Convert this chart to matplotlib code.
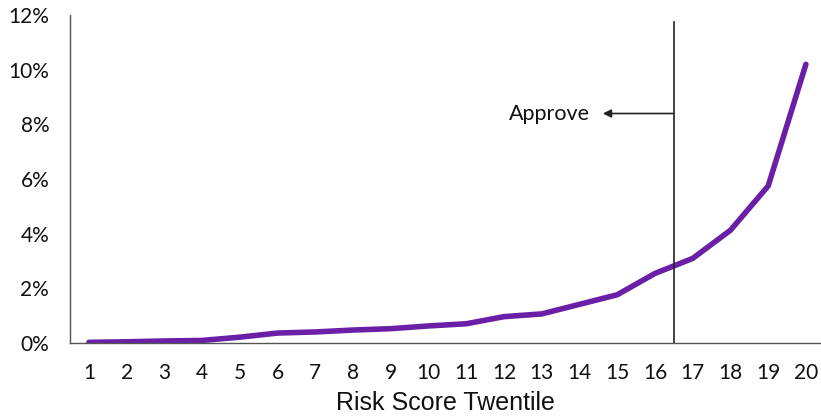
import numpy as np
import matplotlib.pyplot as plt
from matplotlib.ticker import FuncFormatter

# default rate by risk score twentile (percent)
twentiles = list(range(1, 21))
default_rate = [0.03, 0.05, 0.08, 0.1, 0.22, 0.37, 0.41, 0.48, 0.53, 0.63,
                0.71, 0.97, 1.07, 1.42, 1.77, 2.55, 3.1, 4.13, 5.75, 10.2]
cutoff = 16.5
yticks = [0, 2, 4, 6, 8, 10, 12]

fig = plt.figure(figsize=(8.21, 4.19), dpi=100)
ax = fig.add_axes([0.0853, 0.181, 0.9147, 0.783])

ax.plot(twentiles, default_rate, color="#6a1fa6", lw=4.0, solid_capstyle="round")
ax.axvline(cutoff, ymin=0, ymax=11.75 / 12, color="#222222", lw=1.2)

ax.annotate("", xy=(14.62, 8.4), xytext=(cutoff, 8.4),
            arrowprops=dict(arrowstyle="-|>", color="#222222", lw=1.2,
                            mutation_scale=12, shrinkA=0, shrinkB=0))
ax.text(14.27, 8.4, "Approve", ha="right", va="center", fontsize=15.5,
        family="Lato", color="#111111")

ax.set_xlim(0.5, 20.4)
ax.set_ylim(0, 12)
ax.set_xticks(twentiles)
ax.set_yticks(yticks)
ax.yaxis.set_major_formatter(FuncFormatter(lambda v, p: f"{v:.0f}%"))
ax.tick_params(length=0, labelsize=15)
for lab in ax.get_xticklabels() + ax.get_yticklabels():
    lab.set_family("Lato")
    lab.set_color("#111111")
ax.tick_params(axis="y", pad=15)
ax.tick_params(axis="x", pad=14)

for side in ["top", "right"]:
    ax.spines[side].set_visible(False)
for side in ["left", "bottom"]:
    ax.spines[side].set_color("#555555")
    ax.spines[side].set_linewidth(1.0)

ax.set_xlabel("Risk Score Twentile", family="Liberation Sans", fontsize=18,
              labelpad=6, color="#111111")

fig.savefig("out.png", dpi=100)
